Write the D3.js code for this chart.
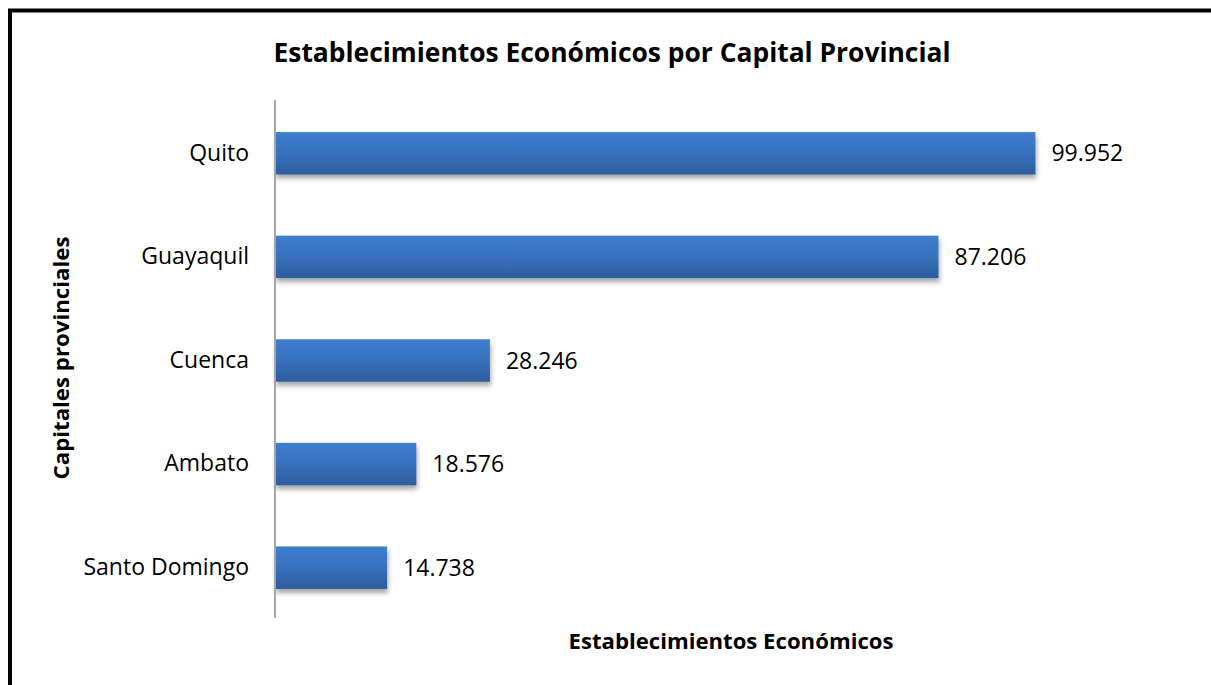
<!DOCTYPE html>
<html>
<head>
<meta charset="utf-8">
<script src="https://cdn.jsdelivr.net/npm/d3@7"></script>
<style>
  html, body { margin: 0; padding: 0; background: #fff; }
  svg { display: block; }
  text { font-family: "Open Sans", Lato, sans-serif; fill: #000; }
</style>
</head>
<body>
<svg id="chart" width="1211" height="685"></svg>
<script>
// Establecimientos económicos por capital provincial
const categories = ["Quito", "Guayaquil", "Cuenca", "Ambato", "Santo Domingo"];
const values = [99952, 87206, 28246, 18576, 14738];
const valueLabels = ["99.952", "87.206", "28.246", "18.576", "14.738"];

const svg = d3.select("#chart");
const W = 1211, H = 685;

const plot = { left: 275, right: 1188, top: 100, bottom: 618 };

const x = d3.scaleLinear().domain([0, 120000]).range([plot.left, plot.right]);
const y = d3.scaleBand().domain(categories).range([plot.top + 1.5, plot.bottom + 1.5])
  .paddingInner(0.59).paddingOuter(0.295);

const defs = svg.append("defs");
const grad = defs.append("linearGradient").attr("id", "barGrad")
  .attr("x1", 0).attr("y1", 0).attr("x2", 0).attr("y2", 1);
grad.append("stop").attr("offset", "0%").attr("stop-color", "#3d7fd0");
grad.append("stop").attr("offset", "45%").attr("stop-color", "#3872bf");
grad.append("stop").attr("offset", "100%").attr("stop-color", "#2e5d9d");

const shadow = defs.append("filter").attr("id", "barShadow")
  .attr("x", "-5%").attr("y", "-20%").attr("width", "110%").attr("height", "160%");
shadow.append("feGaussianBlur").attr("in", "SourceAlpha").attr("stdDeviation", 2.5).attr("result", "blur");
shadow.append("feOffset").attr("in", "blur").attr("dx", 1).attr("dy", 4).attr("result", "off");
shadow.append("feComponentTransfer").attr("in", "off").attr("result", "soft")
  .append("feFuncA").attr("type", "linear").attr("slope", 0.35);
const merge = shadow.append("feMerge");
merge.append("feMergeNode").attr("in", "soft");
merge.append("feMergeNode").attr("in", "SourceGraphic");

// outer frame (top and left edges visible)
svg.append("rect").attr("x", 10).attr("y", 10.5).attr("width", W + 20).attr("height", H + 20)
  .attr("fill", "none").attr("stroke", "#000").attr("stroke-width", 4);

// title
svg.append("text").attr("x", 612).attr("y", 62).attr("text-anchor", "middle")
  .attr("font-size", 26).attr("font-weight", 700)
  .attr("textLength", 677).attr("lengthAdjust", "spacingAndGlyphs")
  .text("Establecimientos Económicos por Capital Provincial");

// bars
svg.append("g").selectAll("rect").data(categories).join("rect")
  .attr("x", x(0))
  .attr("y", d => y(d))
  .attr("width", (d, i) => x(values[i]) - x(0))
  .attr("height", y.bandwidth())
  .attr("fill", "url(#barGrad)")
  .attr("filter", "url(#barShadow)");

// value labels
svg.append("g").selectAll("text").data(categories).join("text")
  .attr("x", (d, i) => x(values[i]) + 16)
  .attr("y", d => y(d) + y.bandwidth() / 2)
  .attr("dy", "0.35em")
  .attr("font-size", 23)
  .text((d, i) => valueLabels[i]);

// category axis
const yAxis = svg.append("g").attr("transform", `translate(${plot.left},0)`)
  .call(d3.axisLeft(y).tickSize(0).tickPadding(26));
yAxis.select(".domain").attr("stroke", "#a6a6a6").attr("stroke-width", 2)
  .attr("d", `M0,${plot.top}V${plot.bottom}`);
yAxis.selectAll(".tick text")
  .attr("font-family", "'Open Sans', Lato, sans-serif")
  .attr("font-size", 23).attr("fill", "#000");

// axis titles
svg.append("text").attr("x", 731).attr("y", 649).attr("text-anchor", "middle")
  .attr("font-size", 21).attr("font-weight", 700)
  .attr("textLength", 325).attr("lengthAdjust", "spacingAndGlyphs")
  .text("Establecimientos Económicos");

svg.append("text").attr("transform", "translate(69,358) rotate(-90)")
  .attr("text-anchor", "middle")
  .attr("font-size", 21).attr("font-weight", 700)
  .attr("textLength", 243).attr("lengthAdjust", "spacingAndGlyphs")
  .text("Capitales provinciales");
</script>
</body>
</html>
